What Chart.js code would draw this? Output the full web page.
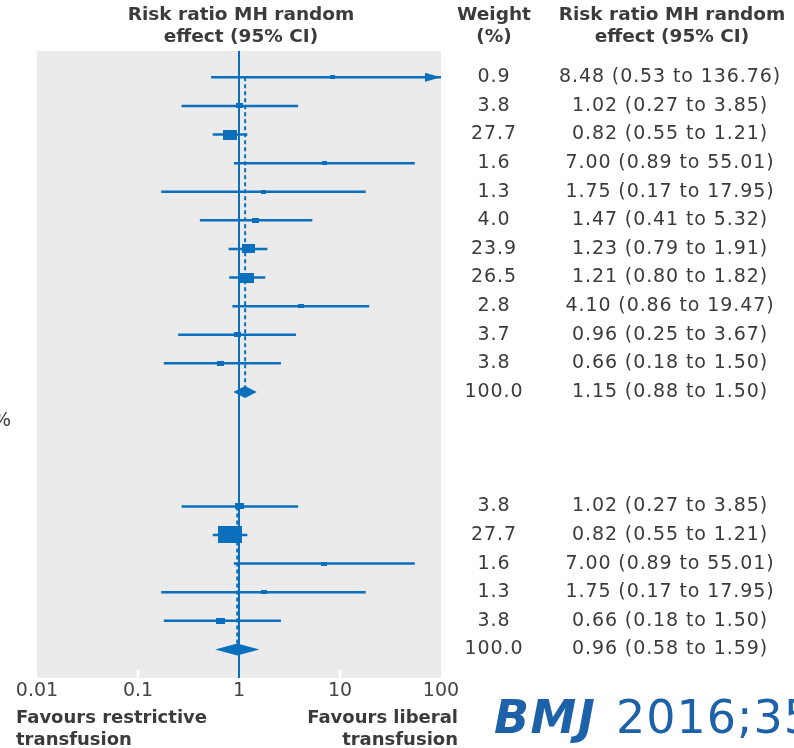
<!DOCTYPE html>
<html>
<head>
<meta charset="utf-8">
<script src="https://cdn.jsdelivr.net/npm/chart.js@4.4.1/dist/chart.umd.min.js"></script>
<style>
  html, body { margin: 0; padding: 0; background: #fff; }
  #wrap { width: 794px; height: 748px; position: relative; overflow: hidden; }
</style>
</head>
<body>
<div id="wrap"><canvas id="forest"></canvas></div>
<script>
// ============================================================
// DATA
// ============================================================
const xTicks = [0.01, 0.1, 1, 10, 100];

// first meta-analysis (rows 0-10, pooled on row 11)
const topRows   = [0, 1, 2, 3, 4, 5, 6, 7, 8, 9, 10];
const topRatio  = [8.48, 1.02, 0.82, 7.00, 1.75, 1.47, 1.23, 1.21, 4.10, 0.96, 0.66];
const topLow    = [0.53, 0.27, 0.55, 0.89, 0.17, 0.41, 0.79, 0.80, 0.86, 0.25, 0.18];
const topHigh   = [136.76, 3.85, 1.21, 55.01, 17.95, 5.32, 1.91, 1.82, 19.47, 3.67, 2.6];
const topWeight = [0.9, 3.8, 27.7, 1.6, 1.3, 4.0, 23.9, 26.5, 2.8, 3.7, 3.8];
const topCiText = ['8.48 (0.53 to 136.76)', '1.02 (0.27 to 3.85)', '0.82 (0.55 to 1.21)',
  '7.00 (0.89 to 55.01)', '1.75 (0.17 to 17.95)', '1.47 (0.41 to 5.32)', '1.23 (0.79 to 1.91)',
  '1.21 (0.80 to 1.82)', '4.10 (0.86 to 19.47)', '0.96 (0.25 to 3.67)', '0.66 (0.18 to 1.50)'];
const topPooledRow  = 11;
const topPooled     = [1.15, 0.88, 1.50];
const topPooledText = '1.15 (0.88 to 1.50)';

// second meta-analysis (rows 15-19, pooled on row 20)
const botRows   = [15, 16, 17, 18, 19];
const botRatio  = [1.02, 0.82, 7.00, 1.75, 0.66];
const botLow    = [0.27, 0.55, 0.89, 0.17, 0.18];
const botHigh   = [3.85, 1.21, 55.01, 17.95, 2.6];
const botWeight = [3.8, 27.7, 1.6, 1.3, 3.8];
const botCiText = ['1.02 (0.27 to 3.85)', '0.82 (0.55 to 1.21)', '7.00 (0.89 to 55.01)',
  '1.75 (0.17 to 17.95)', '0.66 (0.18 to 1.50)'];
const botPooledRow  = 20;
const botPooled     = [0.96, 0.58, 1.59];
const botPooledText = '0.96 (0.58 to 1.59)';

// ============================================================
// STYLE
// ============================================================
const BLUE = '#0a6fbc';
const GREY_BG = '#ebebeb';
const TEXT = '#3b3b3b';
const FONT = '"DejaVu Sans", sans-serif';

function makeBox(weight, k, c) {
    const w = Math.round(k * Math.sqrt(weight) + c);
    const h = Math.max(3, Math.round(w * 0.7));
    const cv = document.createElement('canvas');
    cv.width = w;
    cv.height = h;
    const g = cv.getContext('2d');
    g.fillStyle = BLUE;
    g.fillRect(0, 0, w, h);
    return cv;
}

const datasets = [];
const pooledList = [];

function addGroup(rows, ratio, low, high, weight, pooled, pooledRow, k, c) {
    rows.forEach((r, i) => {
        datasets.push({
            data: [{ x: low[i], y: r }, { x: high[i], y: r }],
            showLine: true,
            borderColor: BLUE,
            borderWidth: 2.5,
            pointRadius: 0
        });
    });
    datasets.push({
        data: rows.map((r, i) => ({ x: ratio[i], y: r })),
        pointStyle: weight.map(w => makeBox(w, k, c)),
        pointRadius: 5,
        showLine: false
    });
    datasets.push({
        data: [{ x: pooled[0], y: rows[0] }, { x: pooled[0], y: pooledRow }],
        showLine: true,
        borderColor: BLUE,
        borderWidth: 2,
        borderDash: [4, 3],
        pointRadius: 0
    });
    pooledList.push({ row: pooledRow, values: pooled });
}

addGroup(topRows, topRatio, topLow, topHigh, topWeight, topPooled, topPooledRow, 2.2, 2.5);
addGroup(botRows, botRatio, botLow, botHigh, botWeight, botPooled, botPooledRow, 4.3, 1);

// ============================================================
// PLUGINS
// ============================================================
const greyPanel = {
    id: 'greyPanel',
    beforeDraw(chart) {
        const a = chart.chartArea;
        const c = chart.ctx;
        c.save();
        c.fillStyle = GREY_BG;
        c.fillRect(a.left, a.top, a.right - a.left, a.bottom - a.top + 8);
        c.restore();
    }
};

const forestMarks = {
    id: 'forestMarks',
    afterDatasetsDraw(chart) {
        const c = chart.ctx;
        const xs = chart.scales.x, ys = chart.scales.y;
        c.save();
        c.fillStyle = BLUE;
        // pooled diamonds
        pooledList.forEach(p => {
            const y = ys.getPixelForValue(p.row);
            const xm = xs.getPixelForValue(p.values[0]);
            const xl = xs.getPixelForValue(p.values[1]);
            const xr = xs.getPixelForValue(p.values[2]);
            c.beginPath();
            c.moveTo(xl, y);
            c.lineTo(xm, y - 6);
            c.lineTo(xr, y);
            c.lineTo(xm, y + 6);
            c.closePath();
            c.fill();
        });
        // arrows for intervals that run off the axis
        const check = (rows, high) => rows.forEach((r, i) => {
            if (high[i] > xs.max) {
                const y = ys.getPixelForValue(r);
                const xr = chart.chartArea.right;
                c.beginPath();
                c.moveTo(xr, y);
                c.lineTo(xr - 16, y - 4.5);
                c.lineTo(xr - 16, y + 4.5);
                c.closePath();
                c.fill();
            }
        });
        check(topRows, topHigh);
        check(botRows, botHigh);
        c.restore();
    }
};

const forestText = {
    id: 'forestText',
    afterDraw(chart) {
        const c = chart.ctx;
        const ys = chart.scales.y;
        c.save();
        c.fillStyle = TEXT;
        c.textBaseline = 'middle';
        c.textAlign = 'center';

        // headers
        c.font = 'bold 18.5px ' + FONT;
        c.fillText('Risk ratio MH random', 241, 15);
        c.fillText('effect (95% CI)', 241, 37);
        c.fillText('Weight', 494, 15);
        c.fillText('(%)', 494, 37);
        c.fillText('Risk ratio MH random', 672, 15);
        c.fillText('effect (95% CI)', 672, 37);

        // columns
        c.font = '19px ' + FONT;
        c.letterSpacing = '0.9px';
        const col = (rows, weight, texts) => rows.forEach((r, i) => {
            const y = ys.getPixelForValue(r);
            c.fillText(weight[i].toFixed(1), 494, y);
            c.fillText(texts[i], 670, y);
        });
        col(topRows, topWeight, topCiText);
        col(botRows, botWeight, botCiText);
        c.fillText('100.0', 494, ys.getPixelForValue(topPooledRow));
        c.fillText(topPooledText, 670, ys.getPixelForValue(topPooledRow));
        c.fillText('100.0', 494, ys.getPixelForValue(botPooledRow));
        c.fillText(botPooledText, 670, ys.getPixelForValue(botPooledRow));

        // cut-off heterogeneity text at far left
        c.textAlign = 'left';
        c.fillText('%', -7, ys.getPixelForValue(12));
        c.letterSpacing = '0px';

        // footer
        c.font = 'bold 18px ' + FONT;
        c.fillText('Favours restrictive', 16, 718);
        c.fillText('transfusion', 16, 740);
        c.textAlign = 'right';
        c.fillText('Favours liberal', 458, 718);
        c.fillText('transfusion', 458, 740);

        // journal reference
        c.textAlign = 'left';
        c.fillStyle = '#1d62a9';
        c.font = 'italic bold 46px ' + FONT;
        c.letterSpacing = '1.5px';
        c.fillText('BMJ', 494, 721);
        c.letterSpacing = '1px';
        c.font = '46px ' + FONT;
        c.fillText('2016;355', 616, 721);
        c.restore();
    }
};

// ============================================================
// CHART
// ============================================================
new Chart(document.getElementById('forest'), {
    type: 'scatter',
    data: { datasets },
    options: {
        responsive: true,
        maintainAspectRatio: false,
        animation: false,
        layout: { padding: { left: 37, right: 353, top: 51, bottom: 47 } },
        plugins: { legend: { display: false }, tooltip: { enabled: false } },
        scales: {
            x: {
                type: 'logarithmic',
                min: 0.01,
                max: 100,
                afterBuildTicks: axis => { axis.ticks = xTicks.map(v => ({ value: v })); },
                afterFit: axis => { axis.height = 31; },
                ticks: {
                    callback: v => String(v),
                    color: '#444',
                    font: { size: 19, family: FONT },
                    maxRotation: 0,
                    padding: 2
                },
                border: { display: false },
                grid: {
                    color: ctx => (ctx.tick && ctx.tick.value === 1) ? BLUE : 'rgba(0,0,0,0)',
                    lineWidth: 2,
                    tickColor: ctx => {
                        const v = ctx.tick && ctx.tick.value;
                        if (v === 1) return BLUE;
                        if (v === 0.1 || v === 10) return '#ffffff';
                        return 'rgba(0,0,0,0)';
                    },
                    tickWidth: ctx => (ctx.tick && ctx.tick.value === 1) ? 2 : 3,
                    tickLength: 8
                }
            },
            y: {
                type: 'linear',
                min: -0.92,
                max: 20.72,
                reverse: true,
                display: false
            }
        }
    },
    plugins: [greyPanel, forestMarks, forestText]
});
</script>
</body>
</html>
